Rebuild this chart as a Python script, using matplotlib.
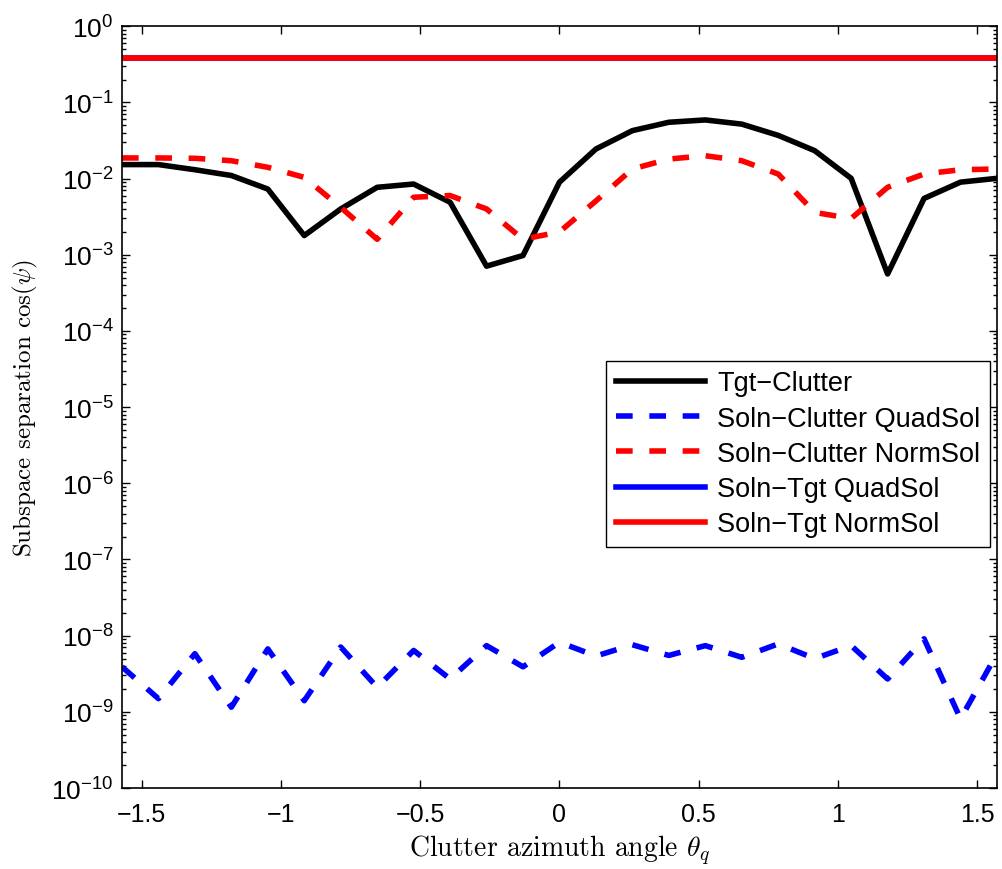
import numpy as np
import matplotlib
matplotlib.use("Agg")
import matplotlib.pyplot as plt

plt.rcParams['font.family'] = ['Liberation Sans', 'DejaVu Sans']
plt.rcParams['mathtext.fontset'] = 'custom'
plt.rcParams['mathtext.rm'] = 'Liberation Sans'
plt.rcParams['mathtext.it'] = 'Liberation Sans:italic'
plt.rcParams['mathtext.bf'] = 'Liberation Sans:bold'

# azimuth angles: 25 samples from -pi/2 to pi/2
theta = np.linspace(-np.pi / 2, np.pi / 2, 25)

tgt_clutter = [0.0153, 0.0153, 0.0131, 0.0110, 0.0073, 0.00179, 0.0040, 0.0077,
               0.0085, 0.0049, 0.00071, 0.00098, 0.0090, 0.0245, 0.0427, 0.055,
               0.059, 0.052, 0.037, 0.0233, 0.0101, 0.00056, 0.0055, 0.0090, 0.0101]

soln_clutter_quad = [3.9e-9, 1.49e-9, 5.8e-9, 1.15e-9, 6.7e-9, 1.4e-9, 7.1e-9, 2.1e-9,
                     6.4e-9, 2.7e-9, 7.4e-9, 3.9e-9, 8.2e-9, 5.4e-9, 7.6e-9, 5.5e-9,
                     7.4e-9, 5.2e-9, 7.8e-9, 5.0e-9, 7.4e-9, 2.7e-9, 9.1e-9, 8.1e-10, 5.8e-9]

soln_clutter_norm = [0.0187, 0.0187, 0.0185, 0.0172, 0.0141, 0.0104, 0.0042, 0.0016,
                     0.0057, 0.0060, 0.0040, 0.0016, 0.0020, 0.0051, 0.0134, 0.0181,
                     0.0200, 0.0172, 0.0115, 0.0036, 0.0030, 0.0077, 0.0115, 0.0131, 0.0134]

soln_tgt_quad = [0.384] * 25
soln_tgt_norm = [0.384] * 25

labels = ['Tgt\u2212Clutter', 'Soln\u2212Clutter QuadSol', 'Soln\u2212Clutter NormSol',
          'Soln\u2212Tgt QuadSol', 'Soln\u2212Tgt NormSol']

fig = plt.figure(figsize=(10.03, 8.70), dpi=100)
ax = fig.add_axes([0.1216, 0.0931, 0.8724, 0.8755])

lw = 4
ax.semilogy(theta, tgt_clutter, color='k', lw=lw, label=labels[0])
ax.semilogy(theta, soln_clutter_quad, color='#0000ff', lw=lw, dashes=(3, 3), label=labels[1])
ax.semilogy(theta, soln_clutter_norm, color='#ff0000', lw=lw, dashes=(3, 3), label=labels[2])
ax.semilogy(theta, soln_tgt_quad, color='#0000ff', lw=lw, label=labels[3])
ax.semilogy(theta, soln_tgt_norm, color='#ff0000', lw=lw, label=labels[4])

ax.set_xlim(-np.pi / 2, np.pi / 2)
ax.set_ylim(1e-10, 1e0)
ax.set_xticks([-1.5, -1, -0.5, 0, 0.5, 1, 1.5])
ax.set_xticklabels(['\u22121.5', '\u22121', '\u22120.5', '0', '0.5', '1', '1.5'])
ax.set_yticks([10.0 ** e for e in range(-10, 1)])
ax.yaxis.set_major_formatter(matplotlib.ticker.FuncFormatter(
    lambda v, p: r'$10^{%d}$' % int(round(np.log10(v)))))
ax.yaxis.set_minor_locator(matplotlib.ticker.LogLocator(base=10, subs=np.arange(2, 10), numticks=100))
ax.yaxis.set_minor_formatter(matplotlib.ticker.NullFormatter())

ax.tick_params(which='both', direction='in', top=True, right=True, width=1.0)
ax.tick_params(which='major', length=6)
ax.tick_params(which='minor', length=3)
ax.tick_params(axis='x', pad=10, labelsize=18)
ax.tick_params(axis='y', pad=6, labelsize=19)
for s in ax.spines.values():
    s.set_linewidth(1.2)

ax.set_xlabel(r'Clutter azimuth angle $\theta_q$', family='cmr10', math_fontfamily='cm', fontsize=20, labelpad=5)
ax.set_ylabel(r'Subspace separation $\cos(\psi)$', family='cmr10', math_fontfamily='cm', fontsize=18, labelpad=8)

leg = ax.legend(loc='upper right', bbox_to_anchor=(0.992, 0.5606), borderaxespad=0,
                fontsize=19.5, handlelength=3.3, fancybox=False, framealpha=1,
                edgecolor='k', labelspacing=0.34, borderpad=0.35, handletextpad=0.45)
leg.get_frame().set_linewidth(1.0)

fig.savefig('out.png', dpi=100)
